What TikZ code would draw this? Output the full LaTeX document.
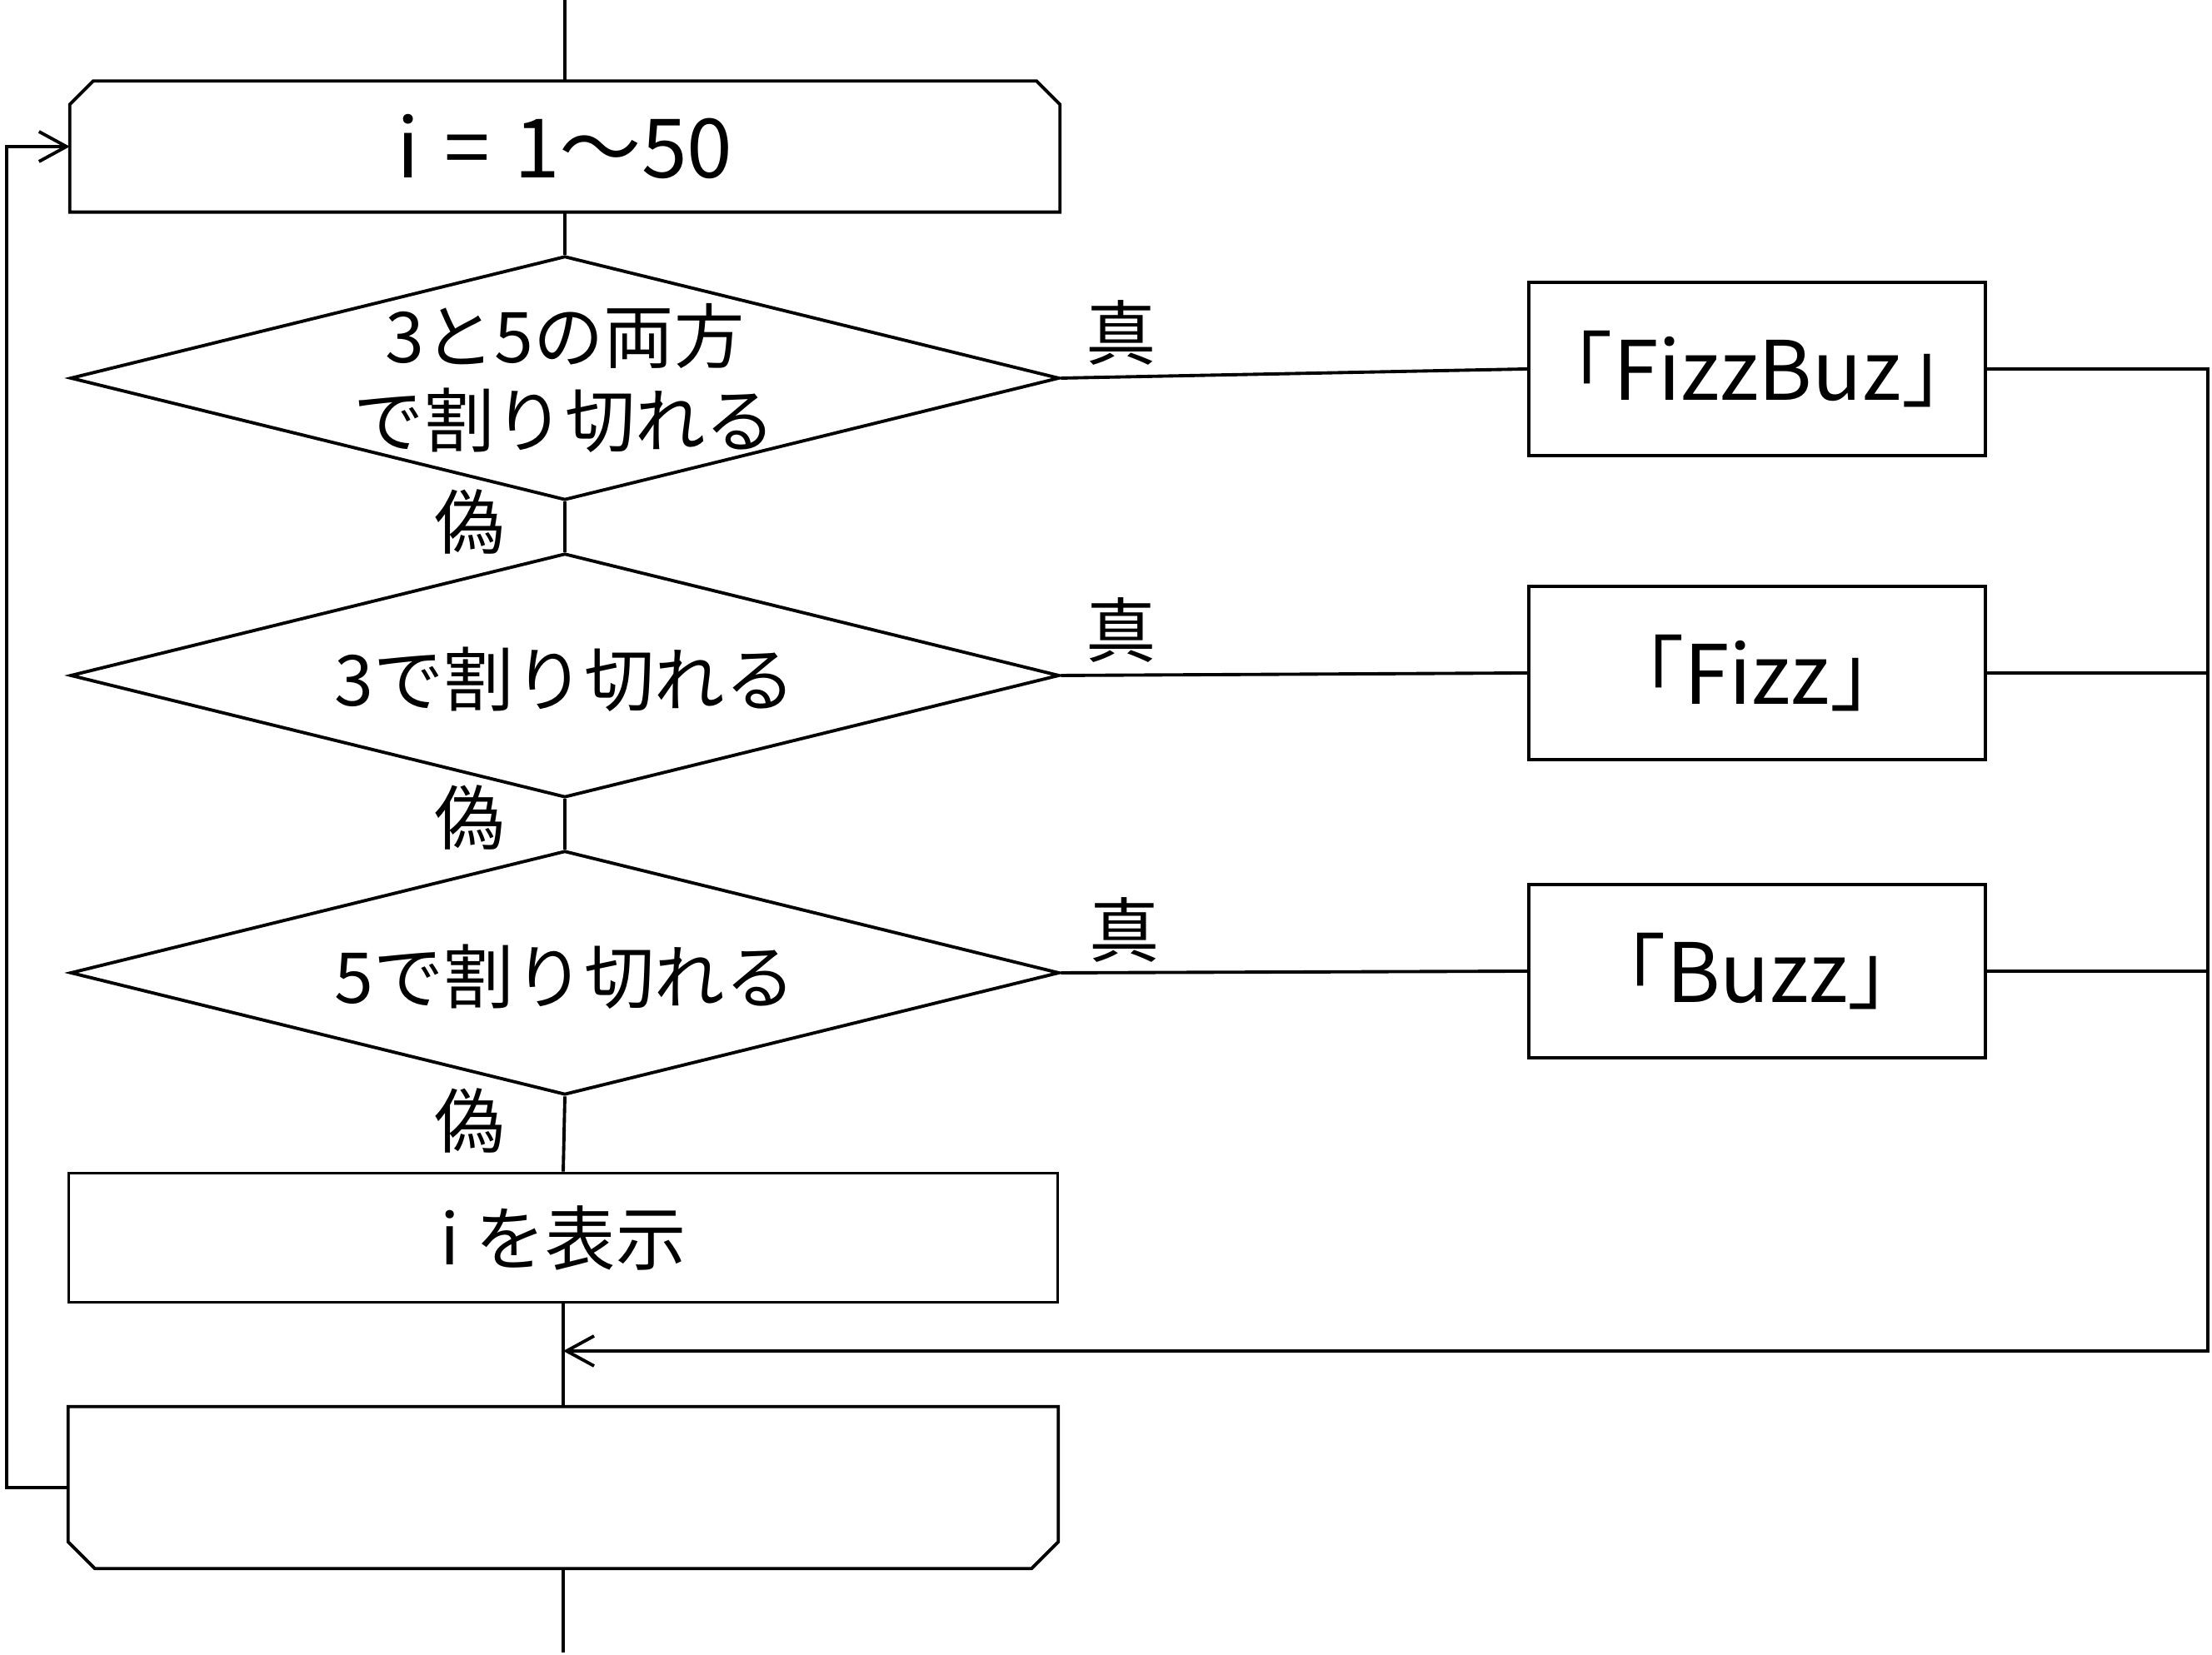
\documentclass[tikz,border=0pt]{standalone}
\usepackage{fontspec}
\setmainfont{Noto Sans CJK JP}
\usetikzlibrary{arrows.meta, shapes.geometric}
\tikzset{
  box/.style={
    rectangle,
    draw,
    line width=1.1pt,
    align=center,
    inner sep=0pt,
    minimum width=5.48cm,
    minimum height=2.08cm,
    font=\fontsize{28}{34}\selectfont
  },
  wide/.style={
    rectangle,
    draw,
    line width=1.1pt,
    align=center,
    minimum width=11.87cm,
    minimum height=1.55cm,
    font=\fontsize{24}{29}\selectfont
  },
  loopbox/.style={
    rectangle,
    align=center,
    inner sep=0pt,
    minimum width=11.87cm,
    font=\fontsize{28}{34}\selectfont
  },
  cond/.style={
    diamond,
    draw,
    line width=1.1pt,
    inner sep=0pt,
    minimum width=11.87cm,
    minimum height=2.93cm
  },
  condtext/.style={font=\fontsize{24}{29}\selectfont, align=center},
  line/.style={line width=1.1pt},
  arrow/.style={-{Straight Barb[length=3.3mm, width=3.6mm]}, line width=1.1pt},
  note/.style={font=\fontsize{24}{29}\selectfont}
}

\begin{document}
\begin{tikzpicture}[x=1cm,y=1cm]
\useasboundingbox (0,0) rectangle (26.55,19.87);
\node[loopbox, minimum height=1.56cm] (lstart) at (6.78,18.11) {i\hspace{0.3em}=\hspace{0.3em}1～50};
\node[cond, label={[condtext]center:{3と5の両方\\で割り切れる}}] (cond1) at (6.78,15.33) {};
\node[cond, label={[condtext, yshift=-0.5mm]center:3で割り切れる}] (cond2) at (6.78,11.76) {};
\node[cond, label={[condtext, yshift=-0.5mm]center:5で割り切れる}] (cond3) at (6.78,8.19) {};
\node[wide] (show) at (6.76,5.01) {i を表示};
\node[loopbox, minimum height=1.93cm] (lend) at (6.76,2.01) {};
\node[box] (fizzbuzz) at (21.09,15.44) {「FizzBuz」};
\node[box] (fizz) at (21.09,11.79) {「Fizz」};
\node[box] (buzz) at (21.09,8.21) {「Buzz」};
\node[note] (yes1) at (13.46,15.87) {真};
\node[note] (yes2) at (13.46,12.30) {真};
\node[note] (yes3) at (13.50,8.70) {真};
\node[note] (no1) at (5.64,13.60) {偽};
\node[note] (no2) at (5.64,10.05) {偽};
\node[note] (no3) at (5.64,6.41) {偽};
\coordinate (top) at (6.78,19.87);
\coordinate (bottom) at (6.76,0.03);
\coordinate (rail) at (26.50,3.65);
\coordinate (back) at (0.08,10);

% loop limits
\draw[line] (lstart.south west) -- ([yshift=-2.8mm]lstart.north west) -- ([xshift=2.8mm]lstart.north west)
  -- ([xshift=-2.8mm]lstart.north east) -- ([yshift=-2.8mm]lstart.north east) -- (lstart.south east) -- cycle;
\draw[line] (lend.north west) -- ([yshift=3.2mm]lend.south west) -- ([xshift=3.2mm]lend.south west)
  -- ([xshift=-3.2mm]lend.south east) -- ([yshift=3.2mm]lend.south east) -- (lend.north east) -- cycle;

\draw[line] (top) -- (lstart.north);
\draw[line] (lstart.south) -- (cond1.north);
\draw[line] (cond1.south) -- (cond2.north);
\draw[line] (cond2.south) -- (cond3.north);
\draw[line] (cond3.south) -- (show.north);
\draw[line] (show.south) -- (lend.north);
\draw[line] (lend.south) -- (bottom);
\draw[line] (cond1.east) -- (fizzbuzz.west);
\draw[line] (cond2.east) -- (fizz.west);
\draw[line] (cond3.east) -- (buzz.west);
\draw[arrow] (fizzbuzz.east) -| (rail) -- (rail -| show.south);
\draw[line] (fizz.east) -- (fizz.east -| rail);
\draw[line] (buzz.east) -- (buzz.east -| rail);
\draw[arrow] (lend.west) -| (back) |- (lstart.west);
\end{tikzpicture}
\end{document}
